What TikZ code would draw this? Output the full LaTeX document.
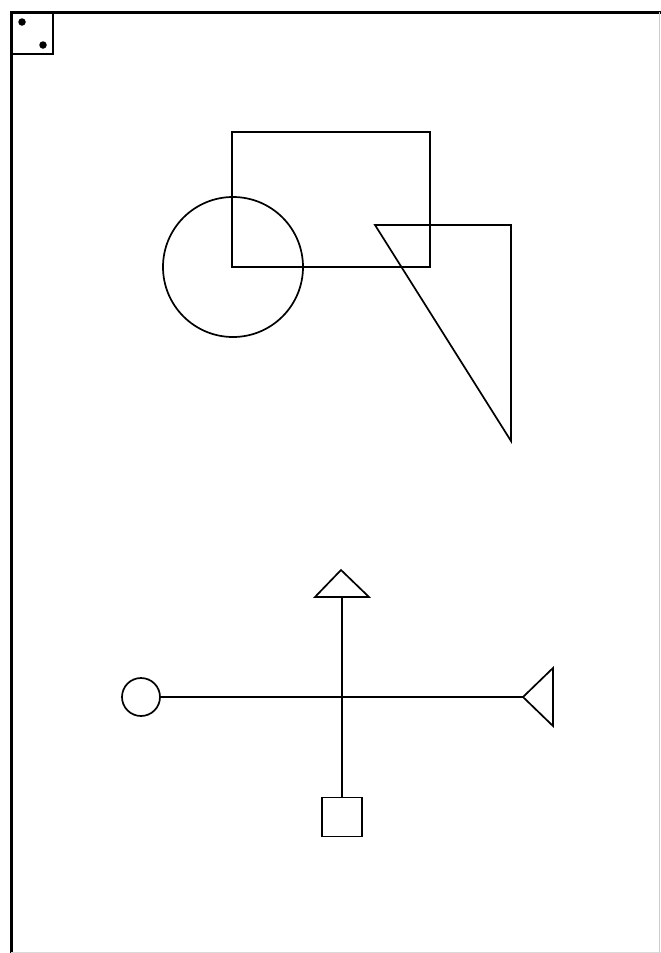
\documentclass[tikz,border=0pt]{standalone}
\usetikzlibrary{shapes.geometric}
\begin{document}
\begin{tikzpicture}[x=1pt,y=-1pt,
  shape line/.style={draw=black,line width=1.7pt},
  frame line/.style={draw=black,line width=3pt},
  dot/.style={circle,fill=black,inner sep=0pt,minimum size=7.5pt},
  endcircle/.style={circle,draw=black,line width=1.7pt,inner sep=0pt,minimum size=38pt},
  endsquare/.style={rectangle,draw=black,line width=1.7pt,inner sep=0pt,minimum width=40pt,minimum height=39pt},
  connector/.style={draw=black,line width=1.7pt}]
\useasboundingbox (0,0) rectangle (661,953);
\fill[white] (0,0) rectangle (661,953);
% frame
\draw[frame line] (11,953) -- (11,12) -- (661,12);
\draw[gray!40,line width=1pt] (659,12) -- (659,953);
\draw[gray!30,line width=1pt] (11,952) -- (661,952);
% corner box
\draw[shape line] (11,12) rectangle (53,54);
\node[dot] (d1) at (22,22) {};
\node[dot] (d2) at (43,45) {};
% upper shapes
\draw[shape line] (232,132) rectangle (430,267);
\draw[shape line] (233,267) circle (70);
\draw[shape line] (375,225) -- (511,225) -- (511,441) -- cycle;
% cross
\node[endcircle] (lc) at (141,697) {};
\node[endsquare] (sq) at (342,817) {};
\coordinate (tapex) at (523,697);
\coordinate (ttop) at (342,597);
\draw[shape line] (ttop) -- (315,597) -- (341,570) -- (369,597) -- cycle;
\draw[shape line] (tapex) -- (553,668) -- (553,726) -- cycle;
\draw[connector] (lc) -- (tapex);
\draw[connector] (ttop) -- (sq);
\end{tikzpicture}
\end{document}
